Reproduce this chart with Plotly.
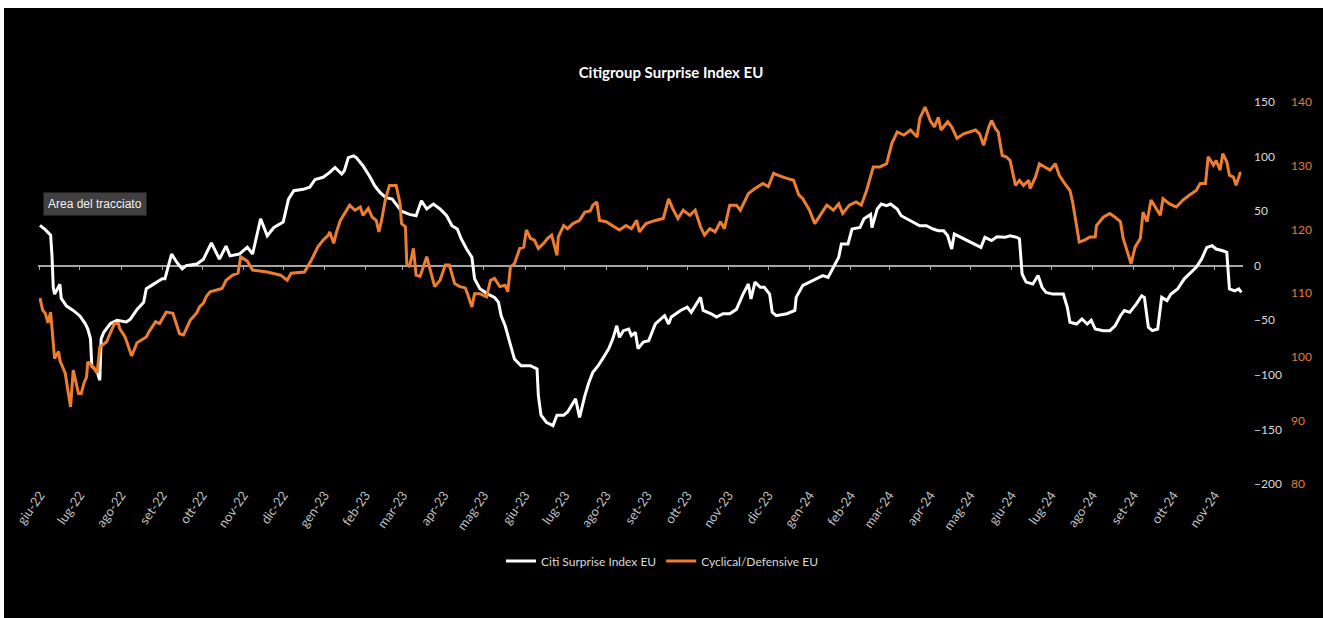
import pandas as pd
import plotly.graph_objects as go

START = pd.Timestamp("2022-06-01")

# Citi Surprise Index EU (left scale) - days since 2022-06-01 and values
citi_days = [0, 4, 8, 9, 10, 11, 15, 16, 20, 25, 30, 34, 36, 38, 39, 43, 45, 46, 48, 53, 58, 65, 68, 73, 78, 80,
             84, 88, 92, 94, 97, 99, 103, 107, 110, 118, 123, 129, 135, 140, 143, 150, 156, 160, 166, 171, 176,
             183, 187, 191, 198, 203, 207, 213, 218, 222, 227, 229, 232, 236, 238, 243, 248, 252, 256, 260, 265,
             268, 272, 278, 283, 287, 291, 296, 301, 306, 310, 314, 317, 321, 325, 327, 331, 337, 342, 345, 347,
             350, 354, 357, 362, 369, 374, 375, 377, 381, 386, 389, 394, 397, 403, 406, 410, 413, 416, 420, 424,
             428, 431, 434, 436, 439, 443, 445, 448, 450, 454, 458, 463, 466, 470, 473, 475, 482, 487, 490, 494,
             497, 499, 505, 509, 514, 519, 524, 529, 533, 535, 538, 542, 545, 549, 551, 554, 562, 568, 569, 574,
             579, 584, 589, 593, 597, 601, 603, 608, 611, 617, 620, 625, 626, 630, 633, 637, 640, 645, 648, 652,
             657, 662, 667, 672, 676, 680, 683, 686, 688, 695, 700, 705, 708, 711, 716, 720, 726, 730, 735, 737,
             739, 742, 747, 751, 754, 757, 762, 770, 773, 775, 780, 784, 788, 791, 794, 800, 805, 809, 813, 816,
             820, 825, 829, 831, 834, 837, 841, 844, 848, 851, 856, 861, 866, 870, 874, 878, 882, 885, 890, 893,
             895, 899, 902, 904]
citi_vals = [37, 33, 28, 10, -20, -26, -17, -30, -37, -41, -46, -53, -58, -67, -92, -97, -105, -67, -61, -53, -50,
             -51.5, -49, -40, -33.5, -21, -18, -15, -12, -12, 1.5, 10.7, 3, -3, 0, 1.5, 6, 21, 6, 18, 9, 10.7, 17,
             10.7, 43, 27.5, 35, 40, 61, 68.7, 70, 72, 79, 81, 85.5, 90, 84, 87, 99, 100.7, 99, 91.6, 82, 73, 67,
             62.6, 61, 56.5, 50, 47, 45.8, 59.5, 52, 56.5, 52, 45.8, 36.6, 33.6, 24.5, 15.3, 7.7, -12, -21, -26,
             -29, -33.5, -45.8, -55, -73, -85.5, -91.6, -91.6, -94.6, -119, -137, -143.4, -146.5, -137, -137, -134,
             -122, -139, -119, -107, -97.6, -91.6, -84, -76, -67, -55, -65.6, -59.5, -58, -64, -61, -76, -70, -68.7,
             -53.4, -50, -45.8, -53.4, -47, -41, -38, -42.7, -35, -29, -41, -44, -47, -44, -44, -40, -26, -16.8,
             -30.5, -15, -19.8, -19.8, -26, -42.7, -45.8, -44, -41, -29, -18, -15, -12, -9, -10.7, -1.5, 7.7, 20, 20,
             33.6, 35, 43, 47, 35, 52, 56.5, 55, 56.5, 52, 45.8, 43, 40, 36.6, 36.6, 33.6, 32, 32, 27.5, 15.3, 29,
             24.5, 21.4, 18.3, 16.8, 26, 23, 26.6, 26, 27.5, 26, 24.5, -7.6, -15, -16.8, -9, -19.8, -24.4, -26, -26,
             -38, -51.8, -53.4, -48.8, -53.4, -50, -58, -59.5, -59.5, -55, -45.8, -41, -42.7, -35, -27.5, -29, -56.4,
             -59.5, -58, -29, -32, -26, -21.3, -12, -6, -1.5, 6, 16.8, 18.3, 15.3, 13.7, 12.2, -21.3, -23, -21.3,
             -24.4]

# Cyclical/Defensive EU (right scale)
cyc_days = [0, 2, 4, 6, 8, 11, 14, 15, 19, 20, 21, 23, 25, 29, 31, 33, 35, 36, 40, 43, 45, 50, 56, 59, 60, 64, 69,
            73, 80, 82, 87, 90, 95, 100, 103, 105, 108, 113, 118, 120, 123, 125, 128, 132, 137, 140, 145, 149, 151,
            156, 160, 171, 181, 186, 189, 199, 204, 209, 213, 217, 218, 221, 223, 226, 229, 233, 237, 241, 243, 247,
            250, 253, 255, 257, 260, 263, 268, 271, 272, 275, 276, 278, 281, 283, 286, 291, 293, 297, 301, 305, 308,
            312, 316, 320, 322, 325, 327, 331, 336, 339, 342, 346, 350, 352, 354, 357, 361, 364, 366, 369, 372, 375,
            379, 382, 385, 389, 390, 394, 397, 401, 406, 410, 414, 416, 419, 421, 426, 431, 436, 441, 445, 449, 451,
            456, 463, 469, 473, 476, 480, 484, 489, 493, 497, 500, 504, 508, 512, 515, 519, 524, 527, 533, 538, 544,
            548, 552, 555, 562, 567, 571, 574, 579, 583, 588, 592, 597, 601, 604, 609, 614, 618, 622, 627, 632, 637,
            641, 645, 650, 655, 660, 662, 666, 670, 673, 676, 678, 683, 686, 690, 695, 700, 704, 707, 710, 714, 716,
            719, 721, 724, 727, 730, 734, 737, 740, 744, 745, 749, 752, 756, 760, 764, 767, 771, 775, 777, 780, 782,
            786, 790, 794, 795, 800, 805, 809, 813, 815, 818, 820, 821, 824, 828, 830, 833, 836, 840, 843, 845, 850,
            855, 860, 865, 870, 873, 877, 879, 883, 885, 888, 890, 893, 895, 898, 900, 903, 904]
cyc_vals = [109.2, 107.3, 106.8, 105.3, 107, 99.7, 100.8, 99.4, 97.4, 96.3, 94.7, 92.1, 97.9, 94.2, 94.2, 95.8, 96.8,
            99.2, 98.4, 97.4, 101.5, 102.3, 105.2, 105.2, 104.4, 103.1, 100.1, 102.2, 103.1, 103.9, 105.5, 105.2, 107,
            106.8, 104.7, 103.6, 103.4, 105.7, 106.9, 107.8, 108.4, 109.4, 110.2, 110.4, 110.7, 112, 112.8, 113.1,
            115.7, 115, 113.6, 113.3, 112.8, 112, 113.1, 113.3, 115.1, 117.2, 118.3, 119.1, 119.6, 117.8, 119.5, 121.4,
            122.5, 123.8, 123, 123.5, 122.2, 123.3, 121.9, 121.4, 119.6, 121.4, 124.8, 126.9, 126.9, 124, 120.9, 120.4,
            114.6, 114.1, 117, 112.8, 112.6, 115.7, 114.1, 111, 112, 114.4, 114.4, 111.5, 111, 110.8, 109.7, 107.8,
            109.9, 109.9, 109.4, 112, 112.3, 111, 111.2, 110.2, 114.1, 114.6, 117, 117.2, 119.9, 118.6, 118.3, 117,
            117.8, 118.6, 119.1, 115.9, 118.8, 120.6, 120.1, 120.9, 121.4, 122.7, 122.9, 123.8, 124.3, 121.4, 121.2,
            120.6, 119.9, 120.6, 120.1, 121.4, 119.6, 120.9, 121.4, 121.7, 124.8, 123.3, 121.7, 123, 122.2, 123, 120.4,
            119.1, 120.1, 119.6, 121.2, 120.1, 123.8, 123.8, 123, 125.6, 126.4, 127.2, 126.7, 128.8, 128.5, 128, 127.7,
            125.4, 124.8, 123, 120.9, 122.5, 123.8, 123, 124, 122.5, 123.8, 124.3, 123.8, 126.1, 129.8, 129.8, 130.3,
            133.5, 135.3, 134.8, 135.6, 134.5, 137.4, 139.2, 137, 136.1, 137.6, 135.6, 136.9, 136.1, 134.3, 135, 135.3,
            135.6, 135, 133.2, 136.1, 137.1, 135.8, 135.3, 131.6, 131.4, 130.8, 126.9, 127.7, 126.9, 127.7, 126.4,
            128.2, 130.3, 129.8, 129.3, 130.3, 128.5, 127.2, 126.1, 124.3, 120.6, 118, 118.3, 118.8, 118.8, 120.6,
            121.9, 122.5, 121.9, 121.2, 118.6, 116.5, 115.4, 114.6, 117.2, 118.6, 122.7, 121.2, 124.6, 123.3, 122.2,
            124.8, 124, 123.5, 124.6, 125.4, 126.1, 127.2, 127.2, 131.4, 130.1, 130.8, 129.3, 131.9, 130.6, 128.5,
            128.2, 126.9, 128.8, 128.8]

month_labels = ["giu-22", "lug-22", "ago-22", "set-22", "ott-22", "nov-22", "dic-22", "gen-23", "feb-23", "mar-23",
                "apr-23", "mag-23", "giu-23", "lug-23", "ago-23", "set-23", "ott-23", "nov-23", "dic-23", "gen-24",
                "feb-24", "mar-24", "apr-24", "mag-24", "giu-24", "lug-24", "ago-24", "set-24", "ott-24", "nov-24"]
left_ticks = [-200, -150, -100, -50, 0, 50, 100, 150]
right_ticks = [80, 90, 100, 110, 120, 130, 140]

citi_dates = START + pd.to_timedelta(citi_days, unit="D")
cyc_dates = START + pd.to_timedelta(cyc_days, unit="D")
month_ticks = pd.date_range(START, periods=len(month_labels), freq="MS")

ORANGE = "#ED7D31"
AXIS_GREY = "#a6a6a6"
FONT = "Lato"

fig = go.Figure()
# invisible helper trace so the horizontal category axis drawn at value 0 is rendered
fig.add_trace(go.Scatter(x=citi_dates, y=citi_vals, mode="lines", xaxis="x2", yaxis="y",
                         line=dict(width=0, color="rgba(0,0,0,0)"), opacity=0,
                         showlegend=False, hoverinfo="skip"))
fig.add_trace(go.Scatter(x=citi_dates, y=citi_vals, mode="lines", name="Citi Surprise Index EU",
                         line=dict(color="#ffffff", width=3), yaxis="y"))
fig.add_trace(go.Scatter(x=cyc_dates, y=cyc_vals, mode="lines", name="Cyclical/Defensive EU",
                         line=dict(color=ORANGE, width=3), yaxis="y2"))

W, H = 1323, 618
L, R, T, B = 38, 80, 102, 134
pw, ph = W - L - R, H - T - B


def px_x(x):
    return (x - L) / pw


def px_y(y):
    return (H - B - y) / ph


x_range = [START - pd.Timedelta(hours=36), START + pd.Timedelta(days=905, hours=5)]
zero_pos = (0 - left_ticks[0]) / (left_ticks[-1] - left_ticks[0])

fig.update_layout(
    width=W, height=H,
    margin=dict(l=L, r=R, t=T, b=B),
    paper_bgcolor="#000000", plot_bgcolor="#000000",
    font=dict(family=FONT, color="#d9d9d9", size=12),
    showlegend=True,
    title=dict(text="<b>Citigroup Surprise Index EU</b>", x=px_x(671), xref="paper", xanchor="center",
               y=1 - 73 / H, yref="container", yanchor="middle",
               font=dict(family=FONT, size=15, color="#ffffff")),
    xaxis=dict(type="date", range=x_range, tickvals=month_ticks, ticktext=month_labels, tickangle=-55,
               showgrid=False, zeroline=False, showline=False, ticks="",
               tickfont=dict(family=FONT, size=13, color="#bfbfbf")),
    xaxis2=dict(type="date", matches="x", overlaying="x", anchor="free", position=zero_pos,
                showgrid=False, zeroline=False, showline=True, linecolor=AXIS_GREY, linewidth=1.5,
                ticks="outside", ticklen=4, tickwidth=1, tickcolor=AXIS_GREY, layer="below traces",
                tickvals=month_ticks, showticklabels=False),
    yaxis=dict(range=[left_ticks[0], left_ticks[-1]], tickvals=left_ticks, side="right",
               showgrid=False, zeroline=True, zerolinecolor=AXIS_GREY, zerolinewidth=1.5,
               showline=False, ticks="", ticklabelstandoff=10,
               tickfont=dict(family=FONT, size=12, color="#d9d9d9")),
    yaxis2=dict(range=[right_ticks[0], right_ticks[-1]], tickvals=right_ticks, side="right",
                overlaying="y", anchor="x", showgrid=False, zeroline=False, showline=False, ticks="",
                ticklabelstandoff=47, tickfont=dict(family=FONT, size=12, color="#E07B39")),
    legend=dict(orientation="h", x=px_x(662), xanchor="center", y=px_y(561), yanchor="middle",
                bgcolor="rgba(0,0,0,0)", font=dict(family=FONT, size=12, color="#d9d9d9"),
                itemwidth=30, tracegroupgap=0),
    annotations=[dict(text="Area del tracciato", xref="paper", yref="paper", x=px_x(43), y=px_y(204),
                      xanchor="left", yanchor="middle", showarrow=False, bgcolor="#404040",
                      borderpad=4, font=dict(family="Liberation Sans", size=12, color="#f2f2f2"))],
    shapes=[
        dict(type="rect", xref="paper", yref="paper", x0=px_x(0), x1=px_x(W), y0=px_y(8), y1=px_y(0),
             fillcolor="#ffffff", line=dict(width=0)),
        dict(type="rect", xref="paper", yref="paper", x0=px_x(0), x1=px_x(4), y0=px_y(H), y1=px_y(0),
             fillcolor="#ffffff", line=dict(width=0)),
    ],
)

fig.write_html("out.html",
               config={"displayModeBar": False},
               post_script="document.body.style.margin='0';document.body.style.padding='0';"
                           "document.documentElement.style.overflow='hidden';"
                           "document.body.style.overflow='hidden';")
